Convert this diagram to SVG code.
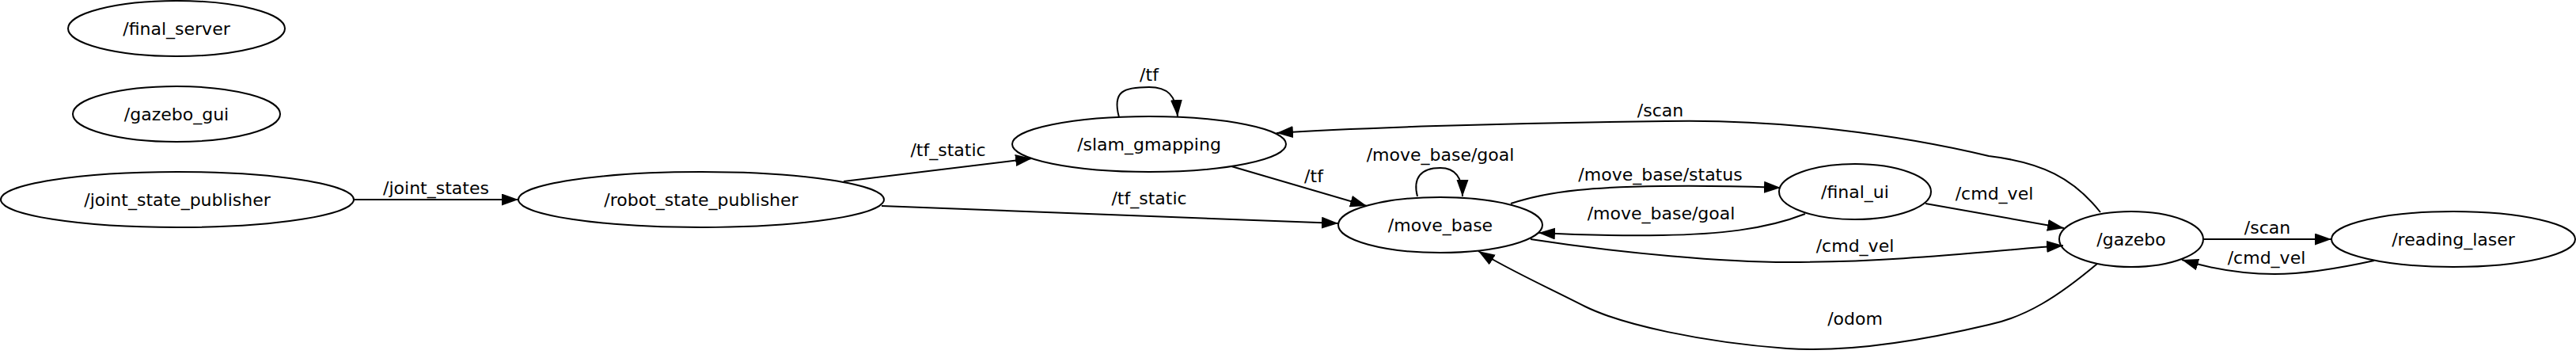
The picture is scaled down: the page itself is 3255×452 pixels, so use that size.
<svg xmlns="http://www.w3.org/2000/svg" width="3255" height="452" viewBox="0 0 3255 452">
<style>
.n ellipse{fill:none;stroke:#000;stroke-width:2}
text{font-family:"DejaVu Sans",sans-serif;font-size:22px;fill:#000;text-anchor:middle}
.e path{fill:none;stroke:#000;stroke-width:2;marker-end:url(#arr)}
</style>
<defs>
<marker id="arr" markerUnits="userSpaceOnUse" markerWidth="22" markerHeight="16" refX="21" refY="7.5" orient="auto">
<path d="M0,0 L21,7.5 L0,15 z" fill="#000"/>
</marker>
</defs>
<rect width="3255" height="452" fill="#fff"/>
<g class="n" id="final_server"><ellipse cx="223" cy="36" rx="137" ry="35"/><text x="223" y="44">/final_server</text></g>
<g class="n" id="gazebo_gui"><ellipse cx="223" cy="144" rx="131" ry="35"/><text x="223" y="152">/gazebo_gui</text></g>
<g class="n" id="joint_state_publisher"><ellipse cx="224" cy="252" rx="223" ry="35"/><text x="224" y="260">/joint_state_publisher</text></g>
<g class="n" id="robot_state_publisher"><ellipse cx="886" cy="252" rx="231" ry="35"/><text x="886" y="260">/robot_state_publisher</text></g>
<g class="n" id="slam_gmapping"><ellipse cx="1452" cy="182" rx="173" ry="35"/><text x="1452" y="190">/slam_gmapping</text></g>
<g class="n" id="move_base"><ellipse cx="1820" cy="284" rx="129" ry="35"/><text x="1820" y="292">/move_base</text></g>
<g class="n" id="final_ui"><ellipse cx="2344" cy="242" rx="96" ry="35"/><text x="2344" y="250">/final_ui</text></g>
<g class="n" id="gazebo"><ellipse cx="2693" cy="302" rx="91" ry="35"/><text x="2693" y="310">/gazebo</text></g>
<g class="n" id="reading_laser"><ellipse cx="3100" cy="302" rx="154" ry="35"/><text x="3100" y="310">/reading_laser</text></g>
<g class="e" id="connectors">
<path d="M446,252 L655,252"/><text x="551" y="245">/joint_states</text>
<path d="M1066,229 L1304,200"/><text x="1198" y="197">/tf_static</text>
<path d="M1114,260 L1691,282"/><text x="1452" y="258">/tf_static</text>
<path d="M1414,148 C1405,115 1420,110 1452,110 C1475,110 1486,120 1488,147"/><text x="1452" y="102">/tf</text>
<path d="M1556,210 L1727,260"/><text x="1660" y="230">/tf</text>
<path d="M2654,268 C2620,225 2580,205 2513,197 C2400,170 2250,150 2105,153 C1900,155 1700,162 1613,168"/><text x="2098" y="147">/scan</text>
<path d="M1791,248 C1785,225 1795,212 1820,212 C1840,212 1848,225 1848,248"/><text x="1820" y="203">/move_base/goal</text>
<path d="M1909,257 C1960,240 2020,236 2100,235 C2170,234 2220,236 2250,237"/><text x="2098" y="228">/move_base/status</text>
<path d="M2281,270 C2230,290 2170,296 2100,297 C2040,298 1985,296 1944,294"/><text x="2099" y="277">/move_base/goal</text>
<path d="M2433,257 L2608,288"/><text x="2520" y="252">/cmd_vel</text>
<path d="M1934,302 C2050,320 2180,331 2260,331 C2400,331 2520,316 2607,310"/><text x="2344" y="318">/cmd_vel</text>
<path d="M2650,333 C2600,375 2560,400 2513,410 C2420,432 2330,445 2258,440 C2150,432 2050,410 2003,387 C1950,360 1905,340 1868,317"/><text x="2344" y="410">/odom</text>
<path d="M2785,302 L2946,302"/><text x="2865" y="295">/scan</text>
<path d="M3000,329 C2950,340 2910,346 2874,346 C2830,346 2790,338 2757,328"/><text x="2864" y="333">/cmd_vel</text>
</g>
</svg>
